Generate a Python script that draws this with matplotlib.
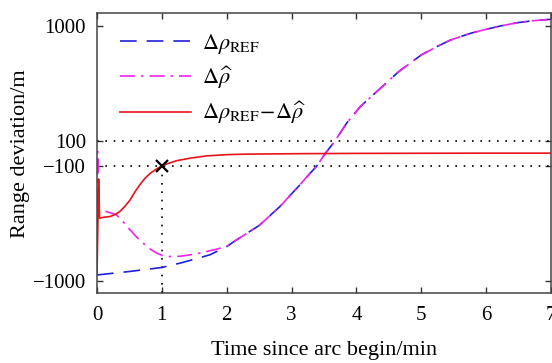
import numpy as np
import matplotlib
matplotlib.use('Agg')
import matplotlib.pyplot as plt
from matplotlib.ticker import FixedLocator, FixedFormatter, NullLocator

plt.rcParams['font.family'] = ['Liberation Serif', 'DejaVu Serif']
plt.rcParams['mathtext.fontset'] = 'stix'

# Reference range deviation (blue dashed)
t_ref = [0, 0.5, 1.0, 1.28, 1.5, 1.74, 2.0, 2.1, 2.5, 2.82, 3.0, 3.13, 3.2, 3.39,
         3.52, 3.67, 3.85, 4.06, 4.37, 4.65, 5.0, 5.24, 5.45, 5.76, 6.0, 6.22,
         6.48, 6.73, 7.0]
d_ref = [-890, -830, -766, -702, -650, -594, -505, -460, -330, -226, -175, -146,
         -131, -100, 0, 100, 143, 199, 287, 400, 560, 661, 755, 864, 936, 1000,
         1068, 1113, 1144]

# Estimated range deviation (magenta dash-dot)
t_est = [0, 0.01, 0.03, 0.15, 0.3, 0.4, 0.51, 0.61, 0.71, 0.82, 0.92, 1.02, 1.13,
         1.28, 1.44, 1.59, 1.69, 1.85, 2.0, 2.1, 2.5, 2.82, 3.0, 3.13, 3.2, 3.39,
         3.52, 3.67, 3.85, 4.06, 4.37, 4.65, 5.0, 5.24, 5.45, 5.76, 6.0, 6.22,
         6.48, 6.73, 7.0]
d_est = [-700, 15, -245, -250, -267, -305, -360, -415, -470, -530, -574, -605,
         -615, -612, -594, -574, -556, -530, -500, -460, -330, -226, -175, -146,
         -131, -100, 0, 100, 143, 199, 287, 400, 560, 661, 755, 864, 936, 1000,
         1068, 1113, 1144]

# Difference (red solid)
t_diff = [0, 0.025, 0.04, 0.1, 0.2, 0.28, 0.35, 0.43, 0.51, 0.58, 0.66, 0.74,
          0.82, 0.9, 1.0, 1.1, 1.23, 1.44, 1.69, 2.0, 2.3, 2.7, 3.2, 4.0, 5.0,
          6.0, 7.0]
d_diff = [-890, -130, -285, -280, -276, -265, -250, -225, -198, -170, -146, -128,
          -116, -108, -100, -80, -58, -38, -20, -10, -6, -4, -2, 0, 1, 2, 2]

y_ticks = [-1000, -100, 100, 1000]
y_ticklabels = ['\u22121000', '\u2212100', '100', '1000']
x_ticks = [0, 1, 2, 3, 4, 5, 6, 7]

fig = plt.figure(figsize=(5.52, 3.63), dpi=100)
ax = fig.add_axes([97 / 552, 1 - 293.3 / 363, 454 / 552, 280 / 363])

ax.set_yscale('symlog', linthresh=100, linscale=0.098)
ylo, yhi = -1285, 1290

# reference lines
dot = (0, (1, 4))
ax.plot([0, 7], [100, 100], color='k', lw=1.2, ls=dot)
ax.plot([0, 7], [-100, -100], color='k', lw=1.2, ls=dot)
ax.plot([1, 1], [ylo, -100], color='k', lw=1.2, ls=dot)

ax.plot(t_ref, d_ref, color='#2020d8', lw=1.2, ls=(0, (10, 6)),
        label=r'$\Delta\rho_{\mathrm{REF}}$')
ax.plot(t_est, d_est, color='#ee22ee', lw=1.2, ls=(0, (9, 3.6, 1.5, 3.6)),
        label=r'$\Delta\widehat{\rho}$')
ax.plot(t_diff, d_diff, color='#e8141c', lw=1.2,
        label=r'$\Delta\rho_{\mathrm{REF}}\!-\!\Delta\widehat{\rho}$')
ax.plot([1], [-100], marker='x', color='k', ms=9, mew=1.6)

ax.set_xlim(0, 7)
ax.set_ylim(ylo, yhi)
ax.xaxis.set_major_locator(FixedLocator(x_ticks))
ax.yaxis.set_major_locator(FixedLocator(y_ticks))
ax.yaxis.set_major_formatter(FixedFormatter(y_ticklabels))
ax.yaxis.set_minor_locator(NullLocator())
ax.xaxis.set_minor_locator(NullLocator())

ax.tick_params(direction='in', top=True, right=True, length=4, width=1,
               labelsize=15, color='#333333')
ax.tick_params(axis='x', pad=9)
ax.tick_params(axis='y', pad=8)
for s in ax.spines.values():
    s.set_color('#444444')
    s.set_linewidth(1.1)

ax.set_xlabel('Time since arc begin/min', fontsize=16)
ax.set_ylabel('Range deviation/m', fontsize=16)
ax.xaxis.set_label_coords(0.5, -0.17)
ax.yaxis.set_label_coords(-0.148, 0.5)

ax.legend(loc='upper left', bbox_to_anchor=(0.03, 0.965), frameon=False,
          fontsize=16, handlelength=3.2, handletextpad=0.5,
          labelspacing=0.4, borderaxespad=0)

fig.savefig('out.png', dpi=100)
